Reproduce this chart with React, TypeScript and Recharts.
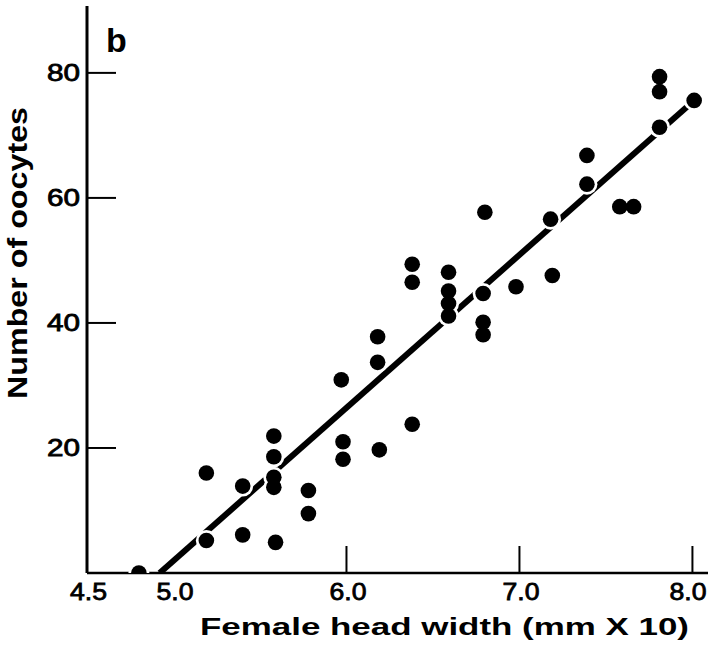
import React from 'react';
import { ComposedChart, Scatter, Line, XAxis, YAxis } from 'recharts';

// Female head width (mm x 10) vs number of oocytes
const headWidth = [
  4.8, 5.19, 5.19, 5.4, 5.4, 5.58, 5.58, 5.58, 5.58, 5.59, 5.78, 5.78, 5.98, 5.98,
  5.97, 6.19, 6.18, 6.18, 6.38, 6.38, 6.38, 6.59, 6.59, 6.59, 6.59, 6.79, 6.79,
  6.79, 6.8, 6.98, 7.19, 7.18, 7.39, 7.39, 7.58, 7.66, 7.81, 7.81, 7.81, 8.01,
];
const oocytes = [
  0, 5.2, 16.0, 13.9, 6.1, 21.9, 18.6, 15.3, 13.7, 4.9, 13.2, 9.5, 21.0, 18.2,
  30.9, 19.7, 37.8, 33.7, 23.8, 49.4, 46.5, 48.1, 45.1, 43.1, 41.1, 44.7, 40.1,
  38.1, 57.7, 45.8, 47.6, 56.6, 66.8, 62.2, 58.6, 58.6, 79.4, 77.0, 71.3, 75.6,
];

// regression line end points
const fitX = [4.92, 8.01];
const fitY = [0, 75.6];

const xTicks = [4.5, 5.0, 6.0, 7.0, 8.0];
const xTickLabels = ['4.5', '5.0', '6.0', '7.0', '8.0'];
const yTicks = [20, 40, 60, 80];
const yTickLabels = ['20', '40', '60', '80'];

const points = headWidth.map((x, i) => ({ x, y: oocytes[i] }));
const fitLine = fitX.map((x, i) => ({ x, y: fitY[i] }));

const FONT = '"Liberation Sans", Arial, Helvetica, sans-serif';

const renderXTick = (props: any) => {
  const { x, y, payload } = props;
  const i = xTicks.indexOf(payload.value);
  const label = xTickLabels[i] ?? String(payload.value);
  const showLine = payload.value >= 6;
  const cx = Math.min(x + 1.5, 706 - 18);
  return (
    <g>
      {showLine && <line x1={x} y1={y} x2={x} y2={y - 27} stroke="#000" strokeWidth={2} />}
      <text
        x={cx}
        y={y + 27}
        textAnchor="middle"
        fontFamily={FONT}
        fontSize={24}
        fill="#000"
        stroke="#000"
        strokeWidth={0.8}
        textLength={37}
        lengthAdjust="spacingAndGlyphs"
      >
        {label}
      </text>
    </g>
  );
};

const renderYTick = (props: any) => {
  const { x, y, payload } = props;
  const i = yTicks.indexOf(payload.value);
  const label = yTickLabels[i] ?? String(payload.value);
  return (
    <g>
      <line x1={x} y1={y} x2={x + 29} y2={y} stroke="#000" strokeWidth={2} />
      <text
        x={80}
        y={y + 8.5}
        textAnchor="end"
        fontFamily={FONT}
        fontSize={23}
        fill="#000"
        stroke="#000"
        strokeWidth={0.8}
        textLength={33}
        lengthAdjust="spacingAndGlyphs"
      >
        {label}
      </text>
    </g>
  );
};

const Halo = (props: any) => <circle cx={props.cx} cy={props.cy} r={10.5} fill="#fff" />;
const Dot = (props: any) => <circle cx={props.cx} cy={props.cy} r={7.8} fill="#000" />;

export default function App() {
  return (
    <div style={{ position: 'absolute', left: 0, top: 0, width: 708, height: 649, background: '#fff' }}>
      <ComposedChart width={708} height={649} margin={{ top: 6, right: 0, left: 86, bottom: 75 }}>
        <XAxis
          type="number"
          dataKey="x"
          domain={[4.5, 8.09]}
          ticks={xTicks}
          interval={0}
          height={1}
          tickSize={0}
          tickMargin={0}
          tickLine={false}
          axisLine={{ stroke: '#000', strokeWidth: 2.5 }}
          tick={renderXTick}
          allowDataOverflow
        />
        <YAxis
          type="number"
          dataKey="y"
          domain={[0, 90.7]}
          ticks={yTicks}
          interval={0}
          width={1}
          tickSize={0}
          tickMargin={0}
          tickLine={false}
          axisLine={{ stroke: '#000', strokeWidth: 3 }}
          tick={renderYTick}
          allowDataOverflow
        />
        <Line
          data={fitLine}
          dataKey="y"
          type="linear"
          stroke="#000"
          strokeWidth={6}
          dot={false}
          activeDot={false}
          isAnimationActive={false}
        />
        <Scatter data={points} dataKey="y" shape={<Halo />} isAnimationActive={false} />
        <Scatter data={points} dataKey="y" shape={<Dot />} isAnimationActive={false} />
        <text x={106} y={52} fontFamily={FONT} fontWeight="bold" fontSize={34} fill="#000">
          b
        </text>
        <text
          x={200}
          y={635}
          fontFamily={FONT}
          fontWeight="bold"
          fontSize={24}
          fill="#000"
          textLength={489}
          lengthAdjust="spacingAndGlyphs"
        >
          Female head width (mm X 10)
        </text>
        <text
          x={27}
          y={253}
          transform="rotate(-90, 27, 253)"
          textAnchor="middle"
          fontFamily={FONT}
          fontWeight="bold"
          fontSize={28}
          fill="#000"
          textLength={292}
          lengthAdjust="spacingAndGlyphs"
        >
          Number of oocytes
        </text>
      </ComposedChart>
    </div>
  );
}
